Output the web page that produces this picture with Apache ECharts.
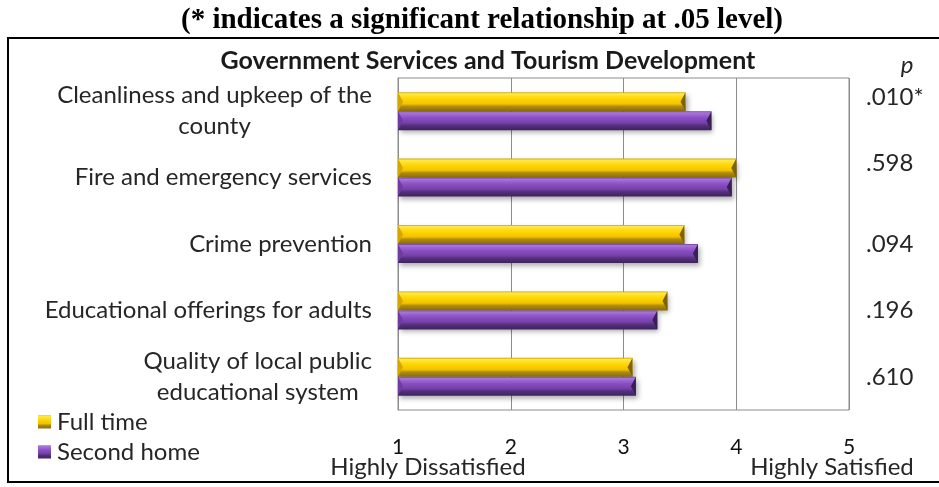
<!DOCTYPE html>
<html><head><meta charset="utf-8">
<script src="https://cdn.jsdelivr.net/npm/echarts@6/dist/echarts.min.js"></script>
<style>html,body{margin:0;padding:0;background:#fff}#chart{width:939px;height:487px}</style>
</head><body><div id="chart"></div>
<script>
// Mean satisfaction ratings (1 = highly dissatisfied, 5 = highly satisfied)
const categories = [
  'Cleanliness and upkeep of the\ncounty',
  'Fire and emergency services',
  'Crime prevention',
  'Educational offerings for adults',
  'Quality of local public\neducational system'
];
const fullTime = [3.55, 4.00, 3.54, 3.39, 3.08];
const secondHome = [3.78, 3.96, 3.66, 3.30, 3.11];
const pValues = ['.010*', '.598', '.094', '.196', '.610'];
const xTicks = [1, 2, 3, 4, 5];

const FONT = 'Lato';
const TEXT = '#262626';
const BAR_H = 19;

function faceGradient(stops) {
  return new echarts.graphic.LinearGradient(0, 0, 0, 1, stops.map(s => ({ offset: s[0], color: s[1] })));
}
const goldStops = [[0, '#C9A000'], [0.08, '#FFE94A'], [0.35, '#FFD500'], [0.62, '#F2C200'], [0.75, '#B08C10'], [1, '#8A6C08']];
const purpleStops = [[0, '#6A3A9A'], [0.08, '#A876D8'], [0.35, '#8A4FC4'], [0.62, '#7440A8'], [0.75, '#55307A'], [1, '#3E2160']];

// Beveled horizontal bar: face + chamfered ends, positioned through the axes
function bevelBar(slot, stops, leftFacet, rightFacet) {
  return function (params, api) {
    const val = api.value(0), cat = api.value(1);
    const end = api.coord([val, cat]);
    const start = api.coord([xTicks[0], cat]);
    const y0 = end[1] + (slot === 0 ? -BAR_H : 0);
    const y1 = y0 + BAR_H, ym = (y0 + y1) / 2;
    const x0 = start[0], x1 = end[0];
    const b = 5;
    return {
      type: 'group',
      children: [
        { type: 'rect', shape: { x: x0, y: y0, width: x1 - x0, height: BAR_H },
          style: { fill: faceGradient(stops), shadowColor: 'rgba(0,0,0,0.32)', shadowBlur: 5, shadowOffsetX: 2, shadowOffsetY: 3 } },
        { type: 'polygon', shape: { points: [[x0, y0], [x0 + b, ym], [x0, y1]] }, style: { fill: leftFacet } },
        { type: 'polygon', shape: { points: [[x1, y0], [x1 - b, ym], [x1, y1]] }, style: { fill: rightFacet } }
      ]
    };
  };
}

const chart = echarts.init(document.getElementById('chart'), null, { renderer: 'canvas' });
chart.setOption({
  animation: false,
  backgroundColor: '#fff',
  title: [
    { text: '(* indicates a significant relationship at .05 level)', left: 477, top: 1, textAlign: 'center',
      textStyle: { fontFamily: 'Liberation Serif', fontWeight: 'bold', fontSize: 29, color: '#000' } },
    { text: 'Government Services and Tourism Development', left: 483, top: 43, textAlign: 'center',
      textStyle: { fontFamily: FONT, fontWeight: 'bold', fontSize: 25, color: '#1a1a1a' } }
  ],
  legend: {
    orient: 'vertical', left: 33, top: 405, itemGap: 6,
    itemWidth: 13, itemHeight: 13, icon: 'rect',
    textStyle: { fontFamily: FONT, fontSize: 24, lineHeight: 24, color: TEXT, padding: [0, 0, 0, 1] },
    data: ['Full time', 'Second home']
  },
  grid: { left: 398, right: 90, top: 78, bottom: 77, show: true, borderColor: '#8c8c8c', borderWidth: 1 },
  xAxis: {
    type: 'value', min: xTicks[0], max: xTicks[xTicks.length - 1], interval: 1,
    axisLine: { show: false }, axisTick: { show: false },
    splitLine: { lineStyle: { color: '#8c8c8c', width: 1 } },
    axisLabel: { margin: 27, fontFamily: FONT, fontSize: 21, color: '#111' }
  },
  yAxis: [
    {
      type: 'category', data: categories, inverse: true,
      axisLine: { lineStyle: { color: '#8c8c8c' } }, axisTick: { show: false },
      axisLabel: {
        margin: 26,
        formatter: v => v.split('\n').map(l => '{c|' + l + '}').join('\n'),
        rich: { c: { align: 'center', fontFamily: FONT, fontSize: 24, color: TEXT, lineHeight: 31 } }
      }
    },
    {
      type: 'category', data: pValues, inverse: true, position: 'right',
      axisLine: { show: false }, axisTick: { show: false },
      axisLabel: {
        margin: 17, align: 'left',
        formatter: (v, i) => (i < 2 ? '{up|' + v + '}' : '{n|' + v + '}'),
        rich: {
          up: { fontFamily: FONT, fontSize: 24, color: TEXT, padding: [0, 0, 28, 0] },
          n: { fontFamily: FONT, fontSize: 24, color: TEXT }
        }
      }
    }
  ],
  series: [
    { name: 'Full time', type: 'custom', data: fullTime.map((v, i) => [v, i]), encode: { x: 0, y: 1 },
      itemStyle: { color: faceGradient(goldStops) },
      renderItem: bevelBar(0, goldStops, '#D4A600', '#7E6200') },
    { name: 'Second home', type: 'custom', data: secondHome.map((v, i) => [v, i]), encode: { x: 0, y: 1 },
      itemStyle: { color: faceGradient(purpleStops) },
      renderItem: bevelBar(1, purpleStops, '#6C3C9E', '#3A1E58') }
  ],
  graphic: [
    { type: 'rect', shape: { x: 8, y: 38, width: 940, height: 444 }, silent: true, z: -1,
      style: { fill: 'none', stroke: '#000', lineWidth: 2 } },
    { type: 'text', x: 907, y: 65, style: { text: 'p', fontFamily: FONT, fontStyle: 'italic', fontSize: 24, fill: TEXT, align: 'center', verticalAlign: 'middle' } },
    { type: 'text', x: 428, y: 467, style: { text: 'Highly Dissatisfied', fontFamily: FONT, fontSize: 24, fill: TEXT, align: 'center', verticalAlign: 'middle' } },
    { type: 'text', x: 832, y: 467, style: { text: 'Highly Satisfied', fontFamily: FONT, fontSize: 24, fill: TEXT, align: 'center', verticalAlign: 'middle' } }
  ]
});
</script></body></html>
